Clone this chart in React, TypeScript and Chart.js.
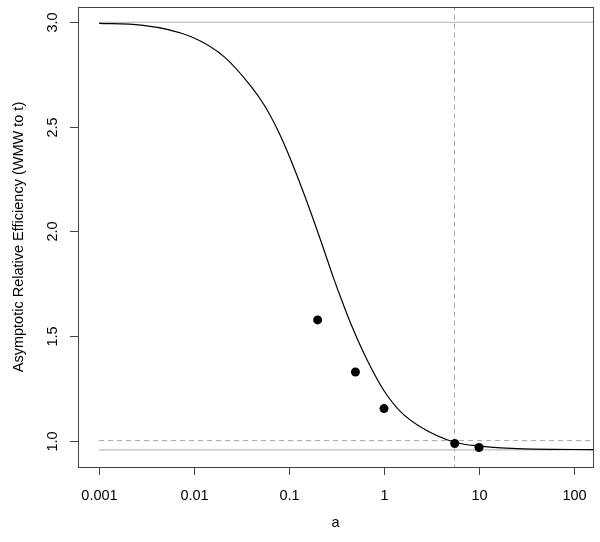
import React, { useEffect, useRef } from "react";
import { Chart, registerables } from "chart.js";

Chart.register(...registerables);

// Curve
const curveX = [0.001, 0.00278, 0.00935, 0.0208, 0.0396, 0.0547, 0.0755, 0.0962, 0.1435, 0.215, 0.297, 0.349, 0.444, 0.664, 1, 1.5, 2.43, 5.43, 10.35, 29.5, 158, 1000];
const curveY = [2.995, 2.987, 2.931, 2.835, 2.695, 2.605, 2.488, 2.381, 2.180, 1.958, 1.772, 1.685, 1.562, 1.385, 1.238, 1.137, 1.065, 0.993, 0.973, 0.96, 0.957, 0.955];

// Observed points
const pointX = [0.2, 0.5, 1, 5.55, 10];
const pointY = [1.577, 1.328, 1.153, 0.986, 0.967];

// Reference lines
const upperBound = 3.0;
const lowerBound = 0.955;
const unityLine = 1.0;
const verticalAt = 5.52;
const refLineX = [0.001, 1000];

// Axes
const xTicks = [0.001, 0.01, 0.1, 1, 10, 100];
const xTickLabels = ["0.001", "0.01", "0.1", "1", "10", "100"];
const yTicks = [1.0, 1.5, 2.0, 2.5, 3.0];
const yTickLabels = ["1.0", "1.5", "2.0", "2.5", "3.0"];
const xTitle = "a";
const yTitle = "Asymptotic Relative Efficiency (WMW to t)";

const FONT = "'Liberation Sans', Arial, Helvetica, sans-serif";

export default function App() {
  const ref = useRef<HTMLCanvasElement | null>(null);

  useEffect(() => {
    const canvas = ref.current;
    if (!canvas) return;

    const axesPlugin = {
      id: "rAxes",
      afterDraw(chart: any) {
        const ctx = chart.ctx;
        const { left, right, top, bottom } = chart.chartArea;
        const xs = chart.scales.x;
        const ys = chart.scales.y;
        ctx.save();
        ctx.strokeStyle = "#444";
        ctx.lineWidth = 1;
        ctx.strokeRect(Math.round(left) + 0.5, Math.round(top) + 0.5, Math.round(right - left), Math.round(bottom - top));
        ctx.fillStyle = "#000";
        ctx.font = `14.5px ${FONT}`;
        // x ticks
        ctx.textAlign = "center";
        ctx.textBaseline = "middle";
        xTicks.forEach((v, i) => {
          const px = Math.round(xs.getPixelForValue(v)) + 0.5;
          ctx.beginPath();
          ctx.moveTo(px, Math.round(bottom));
          ctx.lineTo(px, Math.round(bottom) + 8);
          ctx.stroke();
          ctx.fillText(xTickLabels[i], px, 496);
        });
        // y ticks
        yTicks.forEach((v, i) => {
          const py = Math.round(ys.getPixelForValue(v)) + 0.5;
          ctx.beginPath();
          ctx.moveTo(Math.round(left), py);
          ctx.lineTo(Math.round(left) - 8, py);
          ctx.stroke();
          ctx.save();
          ctx.translate(53, py);
          ctx.rotate(-Math.PI / 2);
          ctx.fillText(yTickLabels[i], 0, 0);
          ctx.restore();
        });
        // titles
        ctx.textBaseline = "alphabetic";
        ctx.fillText(xTitle, (left + right) / 2, 527);
        ctx.save();
        ctx.translate(23, (top + bottom) / 2);
        ctx.rotate(-Math.PI / 2);
        ctx.fillText(yTitle, 0, 0);
        ctx.restore();
        ctx.restore();
      },
    };

    const chart = new Chart(canvas, {
      type: "scatter",
      data: {
        datasets: [
          {
            type: "line",
            label: "points",
            data: pointX.map((x, i) => ({ x, y: pointY[i] })),
            showLine: false,
            pointRadius: 4.5,
            pointBackgroundColor: "#000",
            pointBorderColor: "#000",
            pointBorderWidth: 0,
            order: 0,
          },
          {
            type: "line",
            label: "curve",
            data: curveX.map((x, i) => ({ x, y: curveY[i] })),
            borderColor: "#000",
            borderWidth: 1.2,
            pointRadius: 0,
            cubicInterpolationMode: "monotone",
            fill: false,
            order: 1,
          },
          {
            type: "line",
            label: "upper",
            data: refLineX.map((x) => ({ x, y: upperBound })),
            borderColor: "#bebebe",
            borderWidth: 1.3,
            pointRadius: 0,
            order: 2,
          },
          {
            type: "line",
            label: "lower",
            data: refLineX.map((x) => ({ x, y: lowerBound })),
            borderColor: "#bebebe",
            borderWidth: 1.3,
            pointRadius: 0,
            order: 2,
          },
          {
            type: "line",
            label: "unity",
            data: refLineX.map((x) => ({ x, y: unityLine })),
            borderColor: "#a8a8a8",
            borderWidth: 1,
            borderDash: [5, 4],
            pointRadius: 0,
            order: 2,
          },
          {
            type: "line",
            label: "vertical",
            data: [0, 5].map((y) => ({ x: verticalAt, y })),
            borderColor: "#a8a8a8",
            borderWidth: 1,
            borderDash: [5, 4],
            pointRadius: 0,
            order: 2,
          },
        ],
      },
      options: {
        responsive: false,
        animation: false,
        layout: { padding: { left: 78, top: 7, right: 7, bottom: 75 } },
        plugins: { legend: { display: false }, tooltip: { enabled: false } },
        scales: {
          x: { type: "logarithmic", min: Math.pow(10, -3.2), max: Math.pow(10, 2.2), display: false },
          y: { type: "linear", min: 0.8735, max: 3.0735, display: false },
        },
      },
      plugins: [axesPlugin],
    });

    return () => chart.destroy();
  }, []);

  return (
    <div style={{ position: "absolute", left: 0, top: 0, width: 600, height: 542, background: "#fff" }}>
      <canvas ref={ref} width={600} height={542} style={{ display: "block" }} />
    </div>
  );
}
